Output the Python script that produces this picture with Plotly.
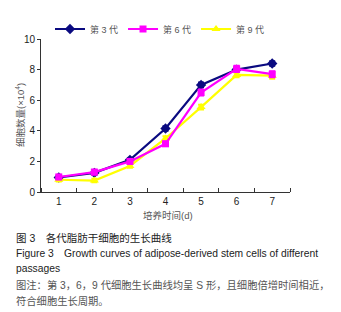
import plotly.graph_objects as go

days = [1, 2, 3, 4, 5, 6, 7]
x_tick_labels = ["1", "2", "3", "4", "5", "6", "7"]
p3 = [0.95, 1.25, 2.1, 4.15, 7.0, 8.0, 8.4]
p6 = [0.98, 1.3, 2.0, 3.15, 6.5, 8.05, 7.7]
p9 = [0.8, 0.75, 1.7, 3.5, 5.55, 7.65, 7.6]
err3 = [0.1, 0.1, 0.1, 0.15, 0.15, 0.15, 0.15]
err6 = [0.15, 0.15, 0.15, 0.15, 0.2, 0.2, 0.2]
err9 = [0.12, 0.12, 0.12, 0.15, 0.15, 0.15, 0.2]
names = ["第 3 代", "第 6 代", "第 9 代"]
colors = ["#0a0a80", "#ff00ff", "#ffff00"]

FONT = "Liberation Sans, Arial, Noto Sans CJK SC, sans-serif"

fig = go.Figure()

def add(y, err, name, color, symbol, size, rank):
    fig.add_trace(go.Scatter(
        x=days, y=y, name=name, mode="lines+markers",
        line=dict(color=color, width=2.2),
        marker=dict(symbol=symbol, size=size, color=color),
        error_y=dict(type="data", array=err, color=color, thickness=2, width=3),
        legendrank=rank,
    ))

add(p3, err3, names[0], colors[0], "diamond", 8, 1)
add(p9, err9, names[2], colors[2], "triangle-up", 8, 3)
add(p6, err6, names[1], colors[1], "square", 7, 2)

W, H = 341, 312
L, R, T, B = 41, 51, 39, 120
ph = H - T - B

def py(ypx):
    return (H - B - ypx) / ph

def px(xpx):
    return (xpx - L) / (W - L - R)

captions = [
    ("图 3　各代脂肪干细胞的生长曲线", 238, "#222", 10.5),
    ("Figure 3　Growth curves of adipose-derived stem cells of different", 253, "#222", 10.3),
    ("passages", 268, "#222", 10.3),
    ("图注：第 3，6，9 代细胞生长曲线均呈 S 形，且细胞倍增时间相近，", 285, "#555", 10.3),
    ("符合细胞生长周期。", 301, "#555", 10.3),
]
annotations = []
for text, ypx, col, fs in captions:
    annotations.append(dict(
        text=text, xref="paper", yref="paper", x=px(14), y=py(ypx),
        xanchor="left", yanchor="middle", showarrow=False,
        font=dict(family=FONT, size=fs, color=col),
    ))
annotations.append(dict(
    text="细胞数量(×10<sup>4</sup>)", xref="paper", yref="paper",
    x=px(20), y=py(115), textangle=-90, xanchor="center", yanchor="middle",
    showarrow=False, font=dict(family=FONT, size=9.5, color="#555"),
))
annotations.append(dict(
    text="培养时间(d)", xref="paper", yref="paper",
    x=px(168), y=py(215), xanchor="center", yanchor="middle",
    showarrow=False, font=dict(family=FONT, size=9.5, color="#555"),
))

fig.update_layout(
    width=W, height=H,
    margin=dict(l=L, r=R, t=T, b=B, autoexpand=False),
    paper_bgcolor="white", plot_bgcolor="white",
    font=dict(family=FONT, size=10, color="#222"),
    showlegend=True,
    legend=dict(orientation="h", xref="container", yref="container",
                x=50 / W, xanchor="left", y=1 - 29 / H, yanchor="middle",
                itemwidth=30,
                font=dict(size=9, color="#555"),
                bgcolor="rgba(0,0,0,0)"),
    annotations=annotations,
    xaxis=dict(range=[0.5, 7.5], tickvals=days, ticktext=x_tick_labels, ticks="",
               automargin=False,
               showgrid=False, zeroline=False, showline=True, linecolor="#333", linewidth=1,
               tickfont=dict(size=10, color="#222"),
               minor=dict(tick0=0.5, dtick=1, ticks="inside", ticklen=4, tickcolor="#333", showgrid=False)),
    yaxis=dict(range=[0, 10], tickvals=[0, 2, 4, 6, 8, 10], ticks="outside", ticklen=3,
               automargin=False,
               tickcolor="#333", showgrid=False, zeroline=False, showline=True,
               linecolor="#333", linewidth=1, tickfont=dict(size=10, color="#222")),
)

fig.write_html("out.html", config={"displayModeBar": False},
               post_script="document.body.style.margin='0';document.body.style.overflow='hidden';")
